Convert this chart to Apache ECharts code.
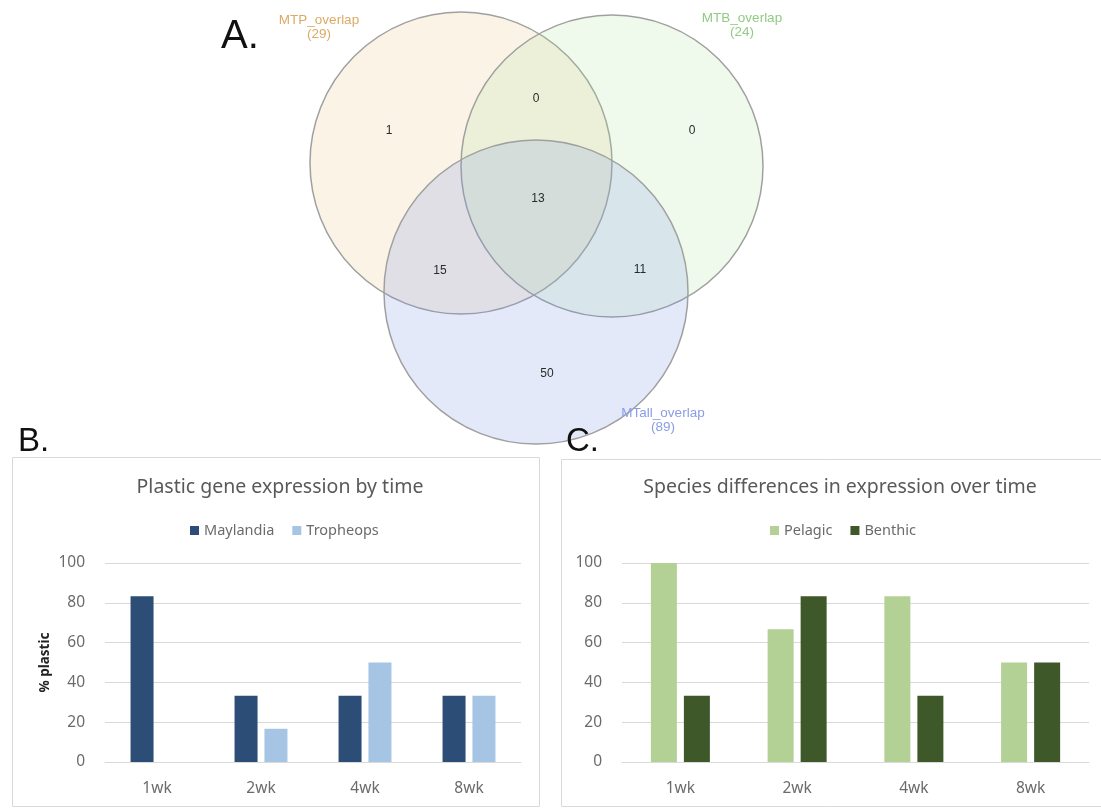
<!DOCTYPE html>
<html>
<head>
<meta charset="utf-8">
<script src="https://cdn.jsdelivr.net/npm/echarts@6/dist/echarts.min.js"></script>
<style>
  html, body { margin: 0; background: #fff; }
  #chart { width: 1101px; height: 808px; }
</style>
</head>
<body>
<div id="chart"></div>
<script>
// panel B / C data
const weeks = ['1wk', '2wk', '4wk', '8wk'];
const maylandia = [83.3, 33.3, 33.3, 33.3];
const tropheops = [0, 16.7, 50, 33.3];
const pelagic = [100, 66.7, 83.3, 50];
const benthic = [33.3, 83.3, 33.3, 50];
const yTicks = [0, 20, 40, 60, 80, 100];

// panel A data (venn)
const vennSets = ['MTP_overlap', 'MTB_overlap', 'MTall_overlap'];
const vennTotals = [29, 24, 89];
const vennRegions = ['MTP', 'MTP&MTB', 'MTB', 'all', 'MTP&MTall', 'MTB&MTall', 'MTall'];
const vennCounts = [1, 0, 0, 13, 15, 11, 50];

// layout of the venn drawing
const circles = [
  { cx: 461, cy: 163, r: 151, fill: 'rgba(240,190,120,0.18)', label: '#dcaa66', lx: 319, ly: 21 },
  { cx: 612, cy: 166, r: 151, fill: 'rgba(170,225,150,0.18)', label: '#90cc84', lx: 742, ly: 19 },
  { cx: 536, cy: 292, r: 152, fill: 'rgba(120,145,230,0.2)', label: '#8a9de6', lx: 663, ly: 414 }
];
const regionPos = [[389, 131], [536, 99], [692, 131], [538, 199], [440, 271], [640, 270], [547, 374]];

const font = '"Noto Sans", sans-serif';
const grey = '#6b6b6b';

const graphics = [];
// panel boxes
graphics.push({ type: 'rect', z: 0, shape: { x: 12.5, y: 457.5, width: 527, height: 349 },
  style: { fill: 'none', stroke: '#d9d9d9', lineWidth: 1 } });
graphics.push({ type: 'rect', z: 0, shape: { x: 561.5, y: 459.5, width: 560, height: 347 },
  style: { fill: 'none', stroke: '#d9d9d9', lineWidth: 1 } });

circles.forEach((c, i) => {
  graphics.push({ type: 'circle', z: 1, shape: { cx: c.cx, cy: c.cy, r: c.r },
    style: { fill: c.fill, stroke: '#a0a0a0', lineWidth: 1.5 } });
  graphics.push({ type: 'text', z: 3, style: {
    text: vennSets[i] + '\n(' + vennTotals[i] + ')', x: c.lx, y: c.ly - 8,
    fill: c.label, font: '13.5px "Liberation Sans", Arial, sans-serif',
    textAlign: 'center', textVerticalAlign: 'top', lineHeight: 14 } });
});
vennCounts.forEach((n, i) => {
  graphics.push({ type: 'text', z: 3, style: {
    text: String(n), x: regionPos[i][0], y: regionPos[i][1],
    fill: '#2a2a2a', font: '12px "Liberation Sans", Arial, sans-serif',
    textAlign: 'center', textVerticalAlign: 'middle' } });
});

// panel letters
[['A.', 221, 37, 40], ['B.', 18, 442, 33], ['C.', 566, 442, 33]].forEach(([t, x, y, s]) => {
  graphics.push({ type: 'text', z: 4, style: {
    text: t, x: x, y: y, fill: '#111', font: s + 'px "Liberation Sans", Arial, sans-serif',
    textAlign: 'left', textVerticalAlign: 'middle' } });
});

const valueAxis = (gridIndex, name) => ({
  type: 'value', gridIndex: gridIndex,
  min: yTicks[0], max: yTicks[yTicks.length - 1], interval: yTicks[1] - yTicks[0],
  name: name, nameLocation: 'middle', nameGap: 53,
  nameTextStyle: { fontFamily: font, fontSize: 13.5, fontWeight: 'bold', color: '#222' },
  axisLine: { show: false }, axisTick: { show: false },
  axisLabel: { color: grey, fontFamily: font, fontSize: 15.5, margin: 20 },
  splitLine: { lineStyle: { color: '#d9d9d9', width: 1 } }
});
const catAxis = (gridIndex) => ({
  type: 'category', gridIndex: gridIndex, data: weeks,
  axisLine: { show: true, lineStyle: { color: '#d9d9d9' } }, axisTick: { show: false },
  axisLabel: { color: grey, fontFamily: font, fontSize: 15.5, margin: 19 }
});

const titleStyle = { color: '#595959', fontFamily: font, fontSize: 19.5, fontWeight: 'normal' };
const legendText = { color: grey, fontFamily: font, fontSize: 14.5 };

const option = {
  animation: false,
  backgroundColor: '#fff',
  title: [
    { text: 'Plastic gene expression by time', left: 275, top: 472, textAlign: 'center', textStyle: titleStyle },
    { text: 'Species differences in expression over time', left: 835, top: 472, textAlign: 'center', textStyle: titleStyle }
  ],
  legend: [
    { data: ['Maylandia', 'Tropheops'], left: 185, top: 518, icon: 'rect', itemWidth: 9, itemHeight: 9,
      itemGap: 18, textStyle: legendText },
    { data: ['Pelagic', 'Benthic'], left: 765, top: 518, icon: 'rect', itemWidth: 9, itemHeight: 9,
      itemGap: 18, textStyle: legendText }
  ],
  grid: [
    { left: 105, right: 580, top: 563, bottom: 46 },
    { left: 622, right: 12, top: 563, bottom: 46 }
  ],
  xAxis: [catAxis(0), catAxis(1)],
  yAxis: [valueAxis(0, '% plastic'), valueAxis(1, '')],
  series: [
    { name: 'Maylandia', type: 'bar', xAxisIndex: 0, yAxisIndex: 0, data: maylandia,
      barWidth: 23, barGap: '30%', itemStyle: { color: '#2c4d75' } },
    { name: 'Tropheops', type: 'bar', xAxisIndex: 0, yAxisIndex: 0, data: tropheops,
      barWidth: 23, barGap: '30%', itemStyle: { color: '#a6c4e4' } },
    { name: 'Pelagic', type: 'bar', xAxisIndex: 1, yAxisIndex: 1, data: pelagic,
      barWidth: 26, barGap: '27%', itemStyle: { color: '#b3d095' } },
    { name: 'Benthic', type: 'bar', xAxisIndex: 1, yAxisIndex: 1, data: benthic,
      barWidth: 26, barGap: '27%', itemStyle: { color: '#3f582a' } }
  ],
  graphic: graphics
};

const chart = echarts.init(document.getElementById('chart'));
chart.setOption(option);
</script>
</body>
</html>
